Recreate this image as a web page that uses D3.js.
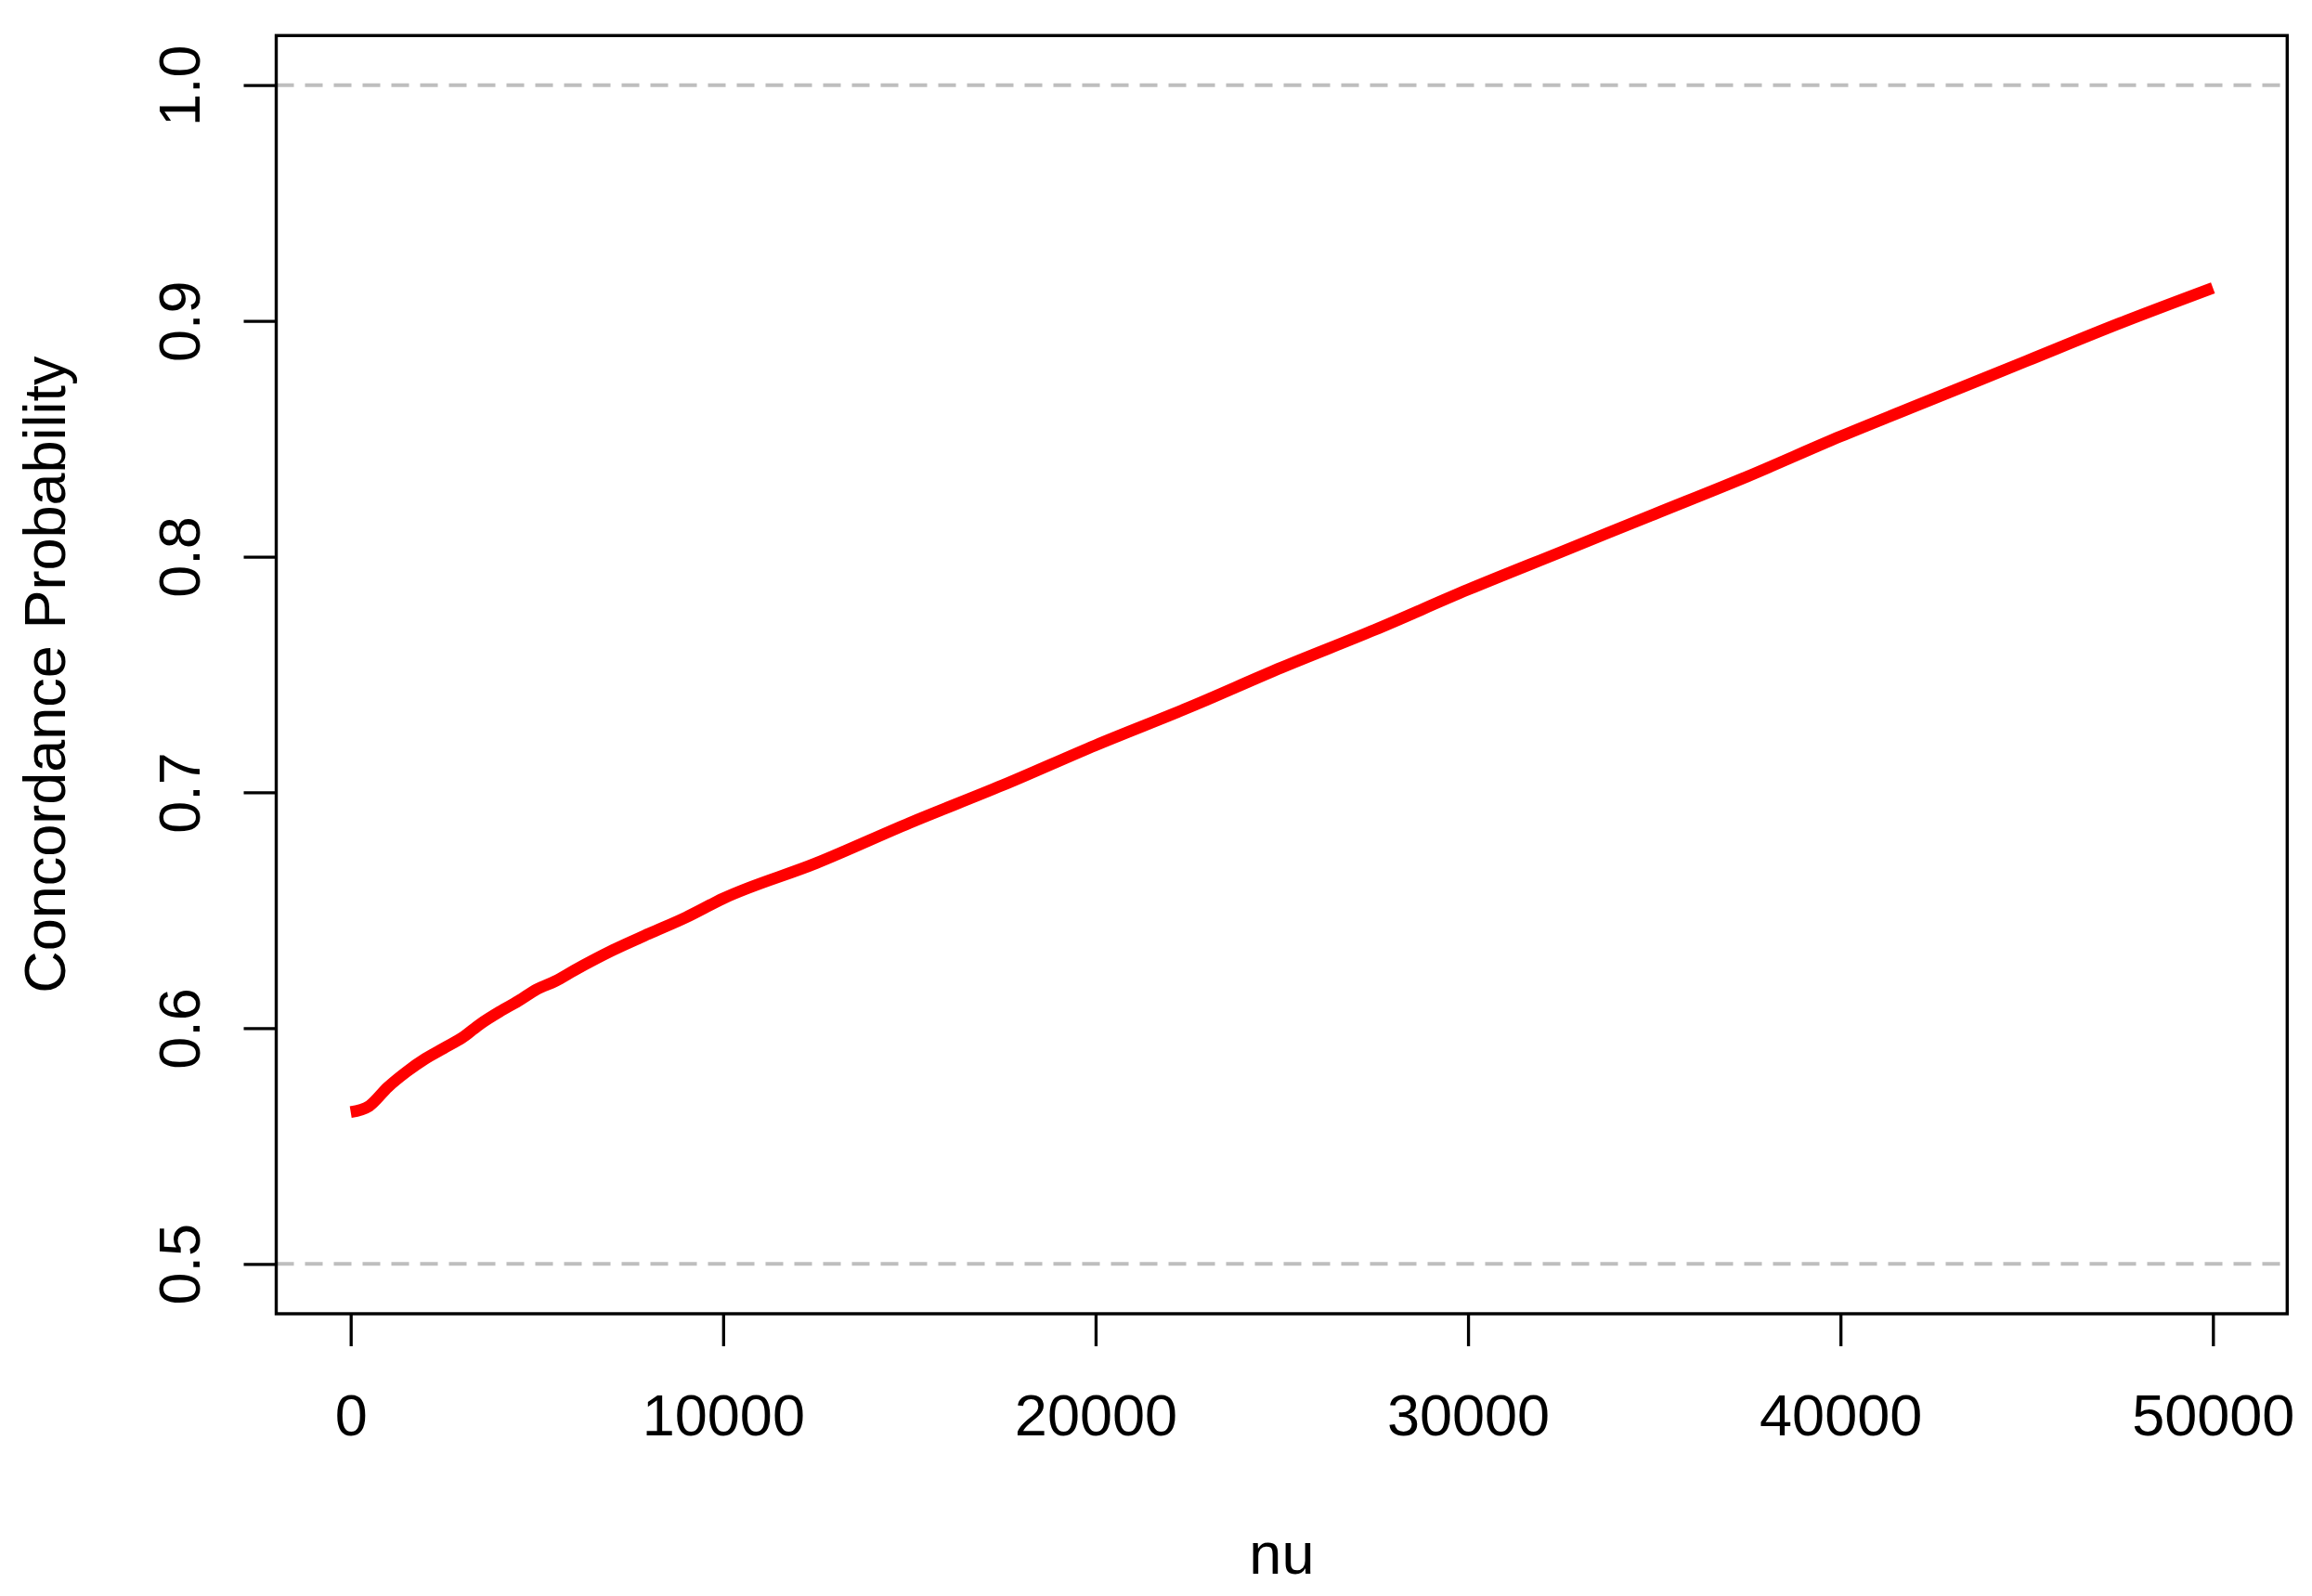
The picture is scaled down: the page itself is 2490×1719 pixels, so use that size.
<!DOCTYPE html>
<html>
<head>
<meta charset="utf-8">
<script src="https://cdn.jsdelivr.net/npm/d3@7"></script>
<style>
  html, body { margin: 0; padding: 0; background: #fff; }
  svg { display: block; }
  text { font-family: "Liberation Sans", Arial, sans-serif; fill: #000; }
</style>
</head>
<body>
<svg id="chart" width="2490" height="1719"></svg>
<script>
// Data
const nuValues = [0, 500, 1000, 1500, 2000, 2500, 3000, 3500, 4000, 4500, 5000, 5500, 6000,
  7000, 8000, 9000, 10000, 12500, 15000, 17500, 20000, 22500, 25000, 27500, 30000,
  32500, 35000, 37500, 40000, 42500, 45000, 47500, 50000];
const concordance = [0.5644, 0.5670, 0.5750, 0.5815, 0.5870, 0.5915, 0.5960, 0.6020, 0.6070, 0.6115, 0.6165, 0.6200, 0.6245,
  0.6328, 0.6400, 0.6470, 0.6550, 0.6700, 0.6870, 0.7030, 0.7200, 0.7360, 0.7530, 0.7690, 0.7860,
  0.8020, 0.8180, 0.8340, 0.8510, 0.8670, 0.8830, 0.8990, 0.9140];
const xTicks = [0, 10000, 20000, 30000, 40000, 50000];
const yTicks = [0.5, 0.6, 0.7, 0.8, 0.9, 1.0];
const refLines = [0.5, 1.0];
const xTitle = "nu";
const yTitle = "Concordance Probability";

const svg = d3.select("#chart");
const box = { left: 297.5, right: 2463.3, top: 38.3, bottom: 1415 };
const x = d3.scaleLinear().domain([0, 50000]).range([377.7, 2383.3]);
const y = d3.scaleLinear().domain([0.5, 1.0]).range([1361.3, 91.7]);
const fontSize = 63;

// reference dashed lines
svg.selectAll("line.ref").data(refLines).enter().append("line")
  .attr("class", "ref")
  .attr("x1", box.left).attr("x2", box.right)
  .attr("y1", d => y(d)).attr("y2", d => y(d))
  .attr("stroke", "#bebebe").attr("stroke-width", 4)
  .attr("stroke-dasharray", "19 12");

// red curve
const pts = nuValues.map((v, i) => [v, concordance[i]]);
svg.append("path")
  .datum(pts)
  .attr("fill", "none")
  .attr("stroke", "#ff0000")
  .attr("stroke-width", 12.5)
  .attr("stroke-linejoin", "round")
  .attr("stroke-linecap", "butt")
  .attr("d", d3.line().x(d => x(d[0])).y(d => y(d[1])).curve(d3.curveMonotoneX));

// x axis
const xAxis = svg.append("g")
  .attr("transform", `translate(0,${box.bottom})`)
  .call(d3.axisBottom(x).tickValues(xTicks).tickSize(35).tickPadding(51).tickFormat(d3.format("d")));
xAxis.select(".domain").remove();
xAxis.selectAll(".tick line").attr("stroke", "#000").attr("stroke-width", 3.3);
xAxis.selectAll(".tick text").attr("font-size", fontSize)
  .style("font-family", "'Liberation Sans', Arial, sans-serif");

// y axis
const yAxis = svg.append("g")
  .attr("transform", `translate(${box.left},0)`)
  .call(d3.axisLeft(y).tickValues(yTicks).tickSize(35).tickFormat(d3.format(".1f")));
yAxis.select(".domain").remove();
yAxis.selectAll(".tick line").attr("stroke", "#000").attr("stroke-width", 3.3);
yAxis.selectAll(".tick text")
  .attr("font-size", fontSize)
  .style("font-family", "'Liberation Sans', Arial, sans-serif")
  .attr("transform", "rotate(-90)")
  .attr("x", 0).attr("y", -(box.left - 215)).attr("dy", 0)
  .attr("text-anchor", "middle");

// plot box
svg.append("rect")
  .attr("x", box.left).attr("y", box.top)
  .attr("width", box.right - box.left).attr("height", box.bottom - box.top)
  .attr("fill", "none").attr("stroke", "#000").attr("stroke-width", 3.4);

// axis titles
svg.append("text")
  .attr("x", (box.left + box.right) / 2).attr("y", 1695)
  .attr("text-anchor", "middle").attr("font-size", fontSize)
  .text(xTitle);
svg.append("text")
  .attr("transform", `translate(70,${(box.top + box.bottom) / 2}) rotate(-90)`)
  .attr("text-anchor", "middle").attr("font-size", fontSize)
  .text(yTitle);
</script>
</body>
</html>
